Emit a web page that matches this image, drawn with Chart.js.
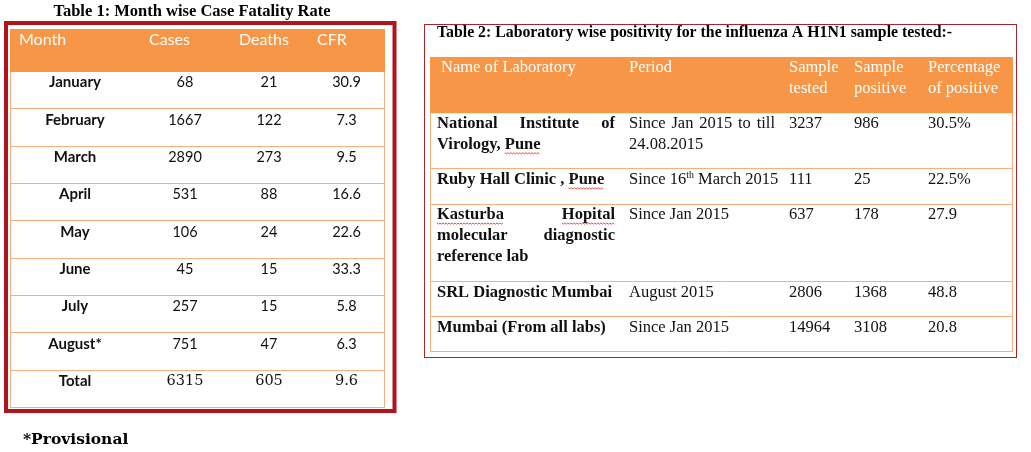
<!DOCTYPE html>
<html>
<head>
<meta charset="utf-8">
<script src="https://cdn.jsdelivr.net/npm/chart.js@4.4.1/dist/chart.umd.min.js"></script>
<style>
  body { margin: 0; background: #fff; width: 1031px; height: 452px; overflow: hidden; position: relative; }
  canvas { position: absolute; }
  #t1 { left: 0; top: 0; }
  #t2 { left: 424px; top: 24px; }
</style>
</head>
<body>
<canvas id="t1" width="400" height="452"></canvas>
<canvas id="t2" width="593" height="334"></canvas>
<script>
// Table 1 data
const t1Title = 'Table 1: Month wise Case Fatality Rate';
const t1Headers = ['Month', 'Cases', 'Deaths', 'CFR'];
const months = ['January', 'February', 'March', 'April', 'May', 'June', 'July', 'August*', 'Total'];
const cases = [68, 1667, 2890, 531, 106, 45, 257, 751, 6315];
const deaths = [21, 122, 273, 88, 24, 15, 15, 47, 605];
const cfr = [30.9, 7.3, 9.5, 16.6, 22.6, 33.3, 5.8, 6.3, 9.6];
const t1Note = '*Provisional';

// Table 2 data
const t2Title = 'Table 2: Laboratory wise positivity for the influenza A H1N1 sample tested:-';
const t2Headers = ['Name of Laboratory', 'Period', 'Sample\ntested', 'Sample\npositive', 'Percentage\nof positive'];
const labNames = ['National Institute of\nVirology, Pune', 'Ruby Hall Clinic , Pune', 'Kasturba Hopital\nmolecular diagnostic\nreference lab', 'SRL Diagnostic Mumbai', 'Mumbai (From all labs)'];
const periods = ['Since Jan 2015 to till\n24.08.2015', 'Since 16th March 2015', 'Since Jan 2015', 'August 2015', 'Since Jan 2015'];
const tested = [3237, 111, 637, 2806, 14964];
const positive = [986, 25, 178, 1368, 3108];
const pctPositive = ['30.5%', '22.5%', '27.9', '48.8', '20.8'];
const spellMarked = ['Pune', 'Kasturba', 'Hopital'];

const ORANGE = '#F79646';
const GRID = '#F4B183';

function cumsum(a) {
  const out = [0];
  a.forEach(v => out.push(out[out.length - 1] + v));
  return out;
}

function fontStr(f, scale) {
  return (f.weight || 'normal') + ' ' + (f.size * (scale || 1)) + 'px ' + f.family;
}

// words like "16th" get a raised suffix
function wordWidth(ctx, f, w) {
  const m = w.match(/^(\d+)(st|nd|rd|th)$/);
  ctx.font = fontStr(f);
  if (!m) return ctx.measureText(w).width;
  const a = ctx.measureText(m[1]).width;
  ctx.font = fontStr(f, 0.6);
  const b = ctx.measureText(m[2]).width;
  ctx.font = fontStr(f);
  return a + b;
}

function drawWord(ctx, f, w, x, y) {
  const m = w.match(/^(\d+)(st|nd|rd|th)$/);
  ctx.font = fontStr(f);
  if (!m) { ctx.fillText(w, x, y); return; }
  ctx.fillText(m[1], x, y);
  const a = ctx.measureText(m[1]).width;
  ctx.font = fontStr(f, 0.6);
  ctx.fillText(m[2], x + a, y - f.size * 0.3);
  ctx.font = fontStr(f);
}

function squiggle(ctx, x, y, w) {
  ctx.save();
  ctx.strokeStyle = '#e2261c';
  ctx.lineWidth = 0.8;
  ctx.beginPath();
  ctx.moveTo(x, y);
  for (let i = 1; i * 1.5 <= w; i++) ctx.lineTo(x + i * 1.5, y + (i % 2 ? 1.2 : 0));
  ctx.stroke();
  ctx.restore();
}

function drawLine(ctx, f, line, x, y, width, justify, marks) {
  const words = line.split(' ');
  const widths = words.map(w => wordWidth(ctx, f, w));
  ctx.font = fontStr(f);
  const space = ctx.measureText(' ').width;
  const used = widths.reduce((s, v) => s + v, 0);
  const gap = justify && words.length > 1 ? (width - used) / (words.length - 1) : space;
  let cx = x;
  words.forEach((w, i) => {
    drawWord(ctx, f, w, cx, y);
    if (marks && marks.includes(w.replace(/[^A-Za-z]/g, ''))) squiggle(ctx, cx, y + 8, widths[i]);
    cx += widths[i] + gap;
  });
}

function drawCell(ctx, text, f, left, right, top, o) {
  const lines = String(text).split('\n');
  ctx.fillStyle = o.color;
  lines.forEach((ln, k) => {
    const ty = top + o.first + k * o.lineH;
    if (o.align === 'center') {
      ctx.font = fontStr(f);
      ctx.textAlign = 'center';
      ctx.fillText(ln, (left + right) / 2, ty);
    } else {
      ctx.textAlign = 'left';
      drawLine(ctx, f, ln, left + o.pad, ty, right - left - 2 * o.pad, o.justify && k < lines.length - 1, o.marks);
    }
  });
}

function drawTable(chart, spec) {
  const { ctx, chartArea: a, scales: { x, y } } = chart;
  const cx = cumsum(spec.colWidths).map(v => x.getPixelForValue(v));
  const ry = cumsum(spec.rowHeights).map(v => y.getPixelForValue(v));
  const L = cx[0], R = cx[cx.length - 1], B = ry[ry.length - 1];
  ctx.save();
  ctx.textBaseline = 'middle';

  // header band
  ctx.fillStyle = spec.headFill;
  ctx.fillRect(L, ry[0], R - L, ry[1] - ry[0]);

  // row rules and side borders
  ctx.strokeStyle = spec.grid;
  ctx.lineWidth = 1;
  ctx.beginPath();
  for (let i = 2; i < ry.length; i++) {
    const yy = Math.round(ry[i]) - 0.5;
    ctx.moveTo(L, yy); ctx.lineTo(R, yy);
  }
  ctx.moveTo(L + 0.5, ry[1]); ctx.lineTo(L + 0.5, B);
  ctx.moveTo(R - 0.5, ry[1]); ctx.lineTo(R - 0.5, B);
  ctx.stroke();

  // outer frame
  const fr = spec.frame;
  ctx.strokeStyle = fr.color;
  ctx.lineWidth = fr.width;
  ctx.strokeRect(a.left - fr.inset[0], a.top - fr.inset[1],
    a.right - a.left + fr.inset[0] + fr.inset[2], a.bottom - a.top + fr.inset[1] + fr.inset[3]);

  // header text
  spec.headers.forEach((h, c) => {
    drawCell(ctx, h, spec.headFont, cx[c], cx[c + 1], ry[0],
      { color: '#fff', align: 'left', pad: spec.headPad[c], first: spec.headFirst, lineH: spec.lineH });
  });

  // body text
  spec.rows.forEach((row, r) => {
    row.forEach((val, c) => {
      drawCell(ctx, val, spec.bodyFont(r, c), cx[c], cx[c + 1], ry[r + 1], {
        color: '#111', align: spec.bodyAlign, pad: spec.bodyPad, first: spec.bodyFirst,
        lineH: spec.lineH, justify: true, marks: c === 0 ? spellMarked : null
      });
    });
  });

  // captions
  spec.captions.forEach(cap => {
    ctx.font = fontStr(cap.font);
    ctx.fillStyle = '#000';
    ctx.textAlign = cap.align;
    const px = a.left + cap.dx, py = cap.from === 'top' ? a.top + cap.dy : a.bottom + cap.dy;
    if (cap.maxWidth) ctx.fillText(cap.text, px, py, cap.maxWidth);
    else ctx.fillText(cap.text, px, py);
  });
  ctx.restore();
}

function makeTable(id, spec) {
  const W = spec.colWidths.reduce((s, v) => s + v, 0);
  const H = spec.rowHeights.reduce((s, v) => s + v, 0);
  return new Chart(document.getElementById(id), {
    type: 'scatter',
    data: { datasets: [] },
    options: {
      responsive: false,
      animation: false,
      events: [],
      layout: { padding: spec.padding },
      plugins: { legend: { display: false }, tooltip: { enabled: false } },
      scales: {
        x: { type: 'linear', display: false, min: 0, max: W },
        y: { type: 'linear', display: false, min: 0, max: H, reverse: true }
      }
    },
    plugins: [{ id: 'table_' + id, afterDraw: chart => drawTable(chart, spec) }]
  });
}

const lato = { size: 14.5, family: 'Lato' };
const latoBold = { weight: 'bold', size: 15, family: 'Lato' };
const century = { size: 14.5, family: '"DejaVu Serif"' };
const times = { size: 16.5, family: '"Liberation Serif"' };
const timesBold = { weight: 'bold', size: 16.5, family: '"Liberation Serif"' };

makeTable('t1', {
  colWidths: [130, 90, 78, 77],
  rowHeights: [43].concat(months.map(() => 37.33)),
  padding: { left: 10, right: 15, top: 29, bottom: 44 },
  headFill: ORANGE,
  grid: GRID,
  frame: { color: '#B3141C', width: 4, inset: [4, 6, 9.5, 3] },
  headers: t1Headers,
  headFont: { size: 16, family: 'Lato' },
  headPad: [9, 9, 9, 9],
  headFirst: 11,
  rows: months.map((m, i) => [m, cases[i], deaths[i], cfr[i].toFixed(1)]),
  bodyFont: (r, c) => c === 0 ? latoBold : (r === months.length - 1 ? century : lato),
  bodyAlign: 'center',
  bodyPad: 0,
  bodyFirst: 10.5,
  lineH: 21,
  captions: [
    { text: t1Title, font: { weight: 'bold', size: 16.5, family: '"Liberation Serif"' }, align: 'center', dx: 182, from: 'top', dy: -17 },
    { text: t1Note, font: { weight: 'bold', size: 15.5, family: '"DejaVu Serif"' }, align: 'left', dx: 13, from: 'bottom', dy: 32 }
  ]
});

const labLines = labNames.map(n => n.split('\n').length);
makeTable('t2', {
  colWidths: [192, 160, 65, 74, 92],
  rowHeights: [56].concat(labLines.map(n => n * 21 + 14)),
  padding: { left: 6, right: 4, top: 33, bottom: 6 },
  headFill: ORANGE,
  grid: GRID,
  frame: { color: '#A8242A', width: 1, inset: [5.5, 32.5, 3.5, 5.5] },
  headers: t2Headers,
  headFont: times,
  headPad: [11, 7, 7, 7, 7],
  headFirst: 10.5,
  rows: labNames.map((n, i) => [n, periods[i], tested[i], positive[i], pctPositive[i]]),
  bodyFont: (r, c) => c === 0 ? timesBold : times,
  bodyAlign: 'left',
  bodyPad: 7,
  bodyFirst: 10.5,
  lineH: 21,
  captions: [
    { text: t2Title, font: { weight: 'bold', size: 16, family: '"Liberation Serif"' }, align: 'left', dx: 7, from: 'top', dy: -24, maxWidth: 515 }
  ]
});
</script>
</body>
</html>
